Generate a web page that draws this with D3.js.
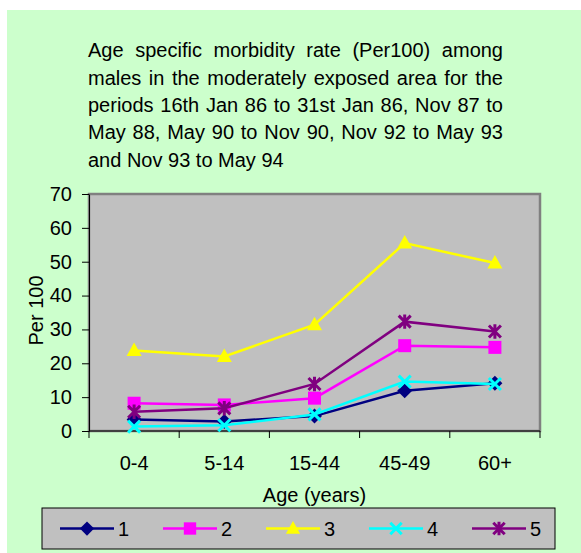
<!DOCTYPE html>
<html><head><meta charset="utf-8">
<script src="https://cdn.jsdelivr.net/npm/d3@7"></script>
<style>body{margin:0;background:#fff}svg{display:block}text{font-family:"Liberation Sans",Arial,sans-serif;fill:#000}</style>
</head><body><svg id="c" width="581" height="553"></svg>
<script>
const categories = ["0-4","5-14","15-44","45-49","60+"];
const seriesNames = ["1","2","3","4","5"];
const s1 = [3.4, 2.8, 4.4, 11.9, 14.1];
const s2 = [8.2, 7.7, 9.7, 25.2, 24.7];
const s3 = [23.8, 22.0, 31.4, 55.5, 49.6];
const s4 = [1.3, 1.7, 4.9, 14.6, 13.9];
const s5 = [5.7, 6.7, 13.9, 32.3, 29.4];
const yTicks = [0,10,20,30,40,50,60,70];
const titleLines = [
  "Age specific morbidity rate (Per100) among",
  "males in the moderately exposed area for the",
  "periods 16th Jan 86 to 31st Jan 86, Nov 87 to",
  "May 88, May 90 to Nov 90, Nov 92 to May 93",
  "and Nov 93 to May 94"
];
const xTitle = "Age (years)";
const yTitle = "Per 100";

const colors = ["#000080","#FF00FF","#FFFF00","#00FFFF","#800080"];
const symbols = ["diamond","square","triangle","x","star"];
const series = [s1,s2,s3,s4,s5].map((v,i)=>({name:seriesNames[i], values:v, color:colors[i], sym:symbols[i]}));

const svg = d3.select("#c");
svg.append("rect").attr("x",7).attr("y",10).attr("width",574).attr("height",543).attr("fill","#CCFFCC");

// Title (justified)
const tL = 88, tR = 503, fs = 20;
const tg = svg.append("g");
titleLines.forEach((line,i)=>{
  const yb = 57.3 + i*27.3;
  if (i === titleLines.length-1) {
    tg.append("text").attr("x",tL).attr("y",yb).attr("font-size",fs).text(line);
    return;
  }
  const words = line.split(" ");
  const nodes = words.map(w=>tg.append("text").attr("y",yb).attr("font-size",fs).text(w));
  const widths = nodes.map(n=>n.node().getComputedTextLength());
  const gap = (tR-tL-d3.sum(widths))/(words.length-1);
  let x = tL;
  nodes.forEach((n,j)=>{ n.attr("x",x); x += widths[j]+gap; });
});

const pl = 89, pr = 540, pt = 194, pb = 431;
const x = d3.scaleBand().domain(categories).range([pl,pr]).padding(0);
const y = d3.scaleLinear().domain([0,70]).range([pb,pt]);
const cx = c => x(c)+x.bandwidth()/2;

// Plot area
svg.append("rect").attr("x",pl).attr("y",pt).attr("width",pr-pl).attr("height",pb-pt)
  .attr("fill","#C0C0C0").attr("stroke","#808080").attr("stroke-width",2.5);

// Y axis
const ya = svg.append("g").attr("transform",`translate(${pl},0)`)
  .call(d3.axisLeft(y).tickValues(yTicks).tickSize(7).tickPadding(10).tickSizeOuter(0));
ya.select(".domain").attr("stroke","#000");
ya.selectAll("text").attr("font-size",20).attr("font-family","Liberation Sans, Arial, sans-serif").attr("fill","#000");

// X axis
const xa = svg.append("g").attr("transform",`translate(0,${pb})`)
  .call(d3.axisBottom(x).tickSize(0).tickSizeOuter(0));
xa.select(".domain").remove();
xa.selectAll("text").attr("font-size",20).attr("font-family","Liberation Sans, Arial, sans-serif").attr("fill","#000")
  .attr("y",39).attr("dy",null);
const bounds = categories.map(c=>x(c)).concat([pr]);
svg.append("line").attr("x1",pl).attr("x2",pr).attr("y1",pb).attr("y2",pb).attr("stroke","#000");
svg.selectAll(".xt").data(bounds).enter().append("line").attr("class","xt")
  .attr("x1",d=>d).attr("x2",d=>d).attr("y1",pb).attr("y2",pb+7).attr("stroke","#000");

// Axis titles
svg.append("text").attr("x",(pl+pr)/2).attr("y",502).attr("text-anchor","middle").attr("font-size",20).text(xTitle);
svg.append("text").attr("transform",`translate(43,${(pt+pb)/2-2}) rotate(-90)`).attr("text-anchor","middle").attr("font-size",20).text(yTitle);

function drawMarker(g, sym, color, px, py, scale){
  const k = scale||1;
  if (sym==="diamond") {
    g.append("path").attr("d",`M${px},${py-7.5*k}L${px+7.5*k},${py}L${px},${py+7.5*k}L${px-7.5*k},${py}Z`).attr("fill",color);
  } else if (sym==="square") {
    g.append("rect").attr("x",px-6.5*k).attr("y",py-6.5*k).attr("width",13*k).attr("height",13*k).attr("fill",color);
  } else if (sym==="triangle") {
    g.append("path").attr("d",`M${px},${py-8*k}L${px+7.5*k},${py+5.5*k}L${px-7.5*k},${py+5.5*k}Z`).attr("fill",color);
  } else if (sym==="x") {
    const r=6*k;
    g.append("path").attr("d",`M${px-r},${py-r}L${px+r},${py+r}M${px-r},${py+r}L${px+r},${py-r}`).attr("stroke",color).attr("stroke-width",3).attr("fill","none");
  } else if (sym==="star") {
    const r=6*k;
    g.append("path").attr("d",`M${px-r},${py-r}L${px+r},${py+r}M${px-r},${py+r}L${px+r},${py-r}M${px},${py-r*1.2}L${px},${py+r*1.2}`).attr("stroke",color).attr("stroke-width",3).attr("fill","none");
  }
}

const line = d3.line().x((d,i)=>cx(categories[i])).y(d=>y(d));
series.forEach(s=>{
  const g = svg.append("g");
  g.append("path").attr("d",line(s.values)).attr("fill","none").attr("stroke",s.color).attr("stroke-width",2.5);
  s.values.forEach((v,i)=>drawMarker(g, s.sym, s.color, cx(categories[i]), y(v)));
});

// Legend
svg.append("rect").attr("x",42).attr("y",508).attr("width",513).attr("height",41)
  .attr("fill","#C0C0C0").attr("stroke","#000").attr("stroke-width",1);
series.forEach((s,i)=>{
  const x0 = 60 + i*103, ly = 528.5;
  const g = svg.append("g");
  g.append("line").attr("x1",x0).attr("x2",x0+54).attr("y1",ly).attr("y2",ly).attr("stroke",s.color).attr("stroke-width",2.5);
  drawMarker(g, s.sym, s.color, x0+27, ly, 0.95);
  g.append("text").attr("x",x0+58).attr("y",ly+7).attr("font-size",20).text(s.name);
});
</script></body></html>
